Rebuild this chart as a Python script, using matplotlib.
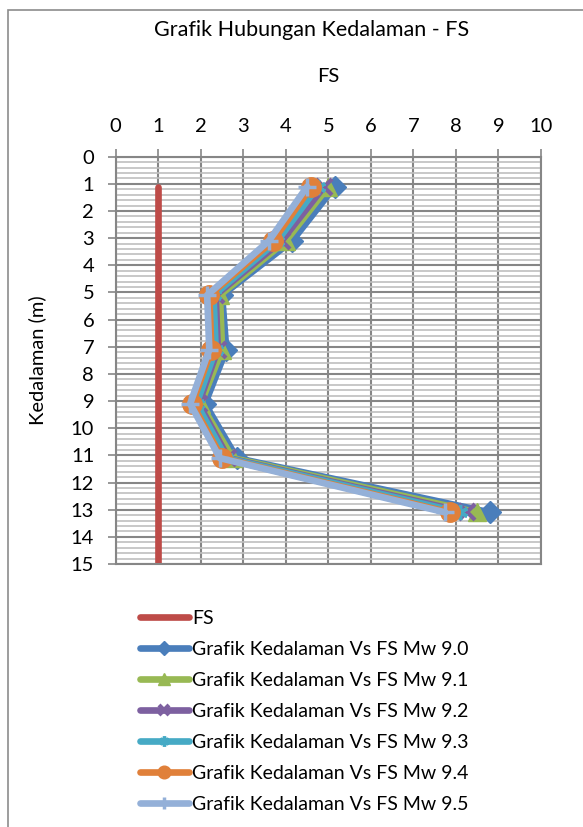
import numpy as np
import matplotlib.pyplot as plt
from matplotlib.patches import Rectangle
from matplotlib.ticker import MultipleLocator

plt.rcParams['font.family'] = ['Lato', 'DejaVu Sans']

# depth (m) of each point
depth = [1.1, 3.1, 5.1, 7.1, 9.1, 11.1, 13.1]
fs_line_x = [1, 1]
fs_line_depth = [1.1, 15]

fs_mw90 = [5.15, 4.15, 2.5, 2.6, 2.1, 2.85, 8.8]
fs_mw91 = [5.0, 4.0, 2.45, 2.5, 2.0, 2.75, 8.5]
fs_mw92 = [4.9, 3.9, 2.35, 2.4, 1.95, 2.65, 8.25]
fs_mw93 = [4.75, 3.8, 2.3, 2.35, 1.9, 2.6, 8.1]
fs_mw94 = [4.6, 3.7, 2.2, 2.25, 1.8, 2.5, 7.85]
fs_mw95 = [4.5, 3.6, 2.15, 2.2, 1.75, 2.45, 7.75]

labels = ['Grafik Kedalaman Vs FS Mw 9.0', 'Grafik Kedalaman Vs FS Mw 9.1',
          'Grafik Kedalaman Vs FS Mw 9.2', 'Grafik Kedalaman Vs FS Mw 9.3',
          'Grafik Kedalaman Vs FS Mw 9.4', 'Grafik Kedalaman Vs FS Mw 9.5']

fig = plt.figure(figsize=(5.83, 8.27), dpi=100)
fig.patch.set_facecolor('white')
fig.patches.append(Rectangle((8/583, -0.1), 1.2, 1 - 10/827 + 0.1, transform=fig.transFigure,
                             fill=False, edgecolor='#8c8c8c', linewidth=1.2))

ax = fig.add_axes([0.1985, 0.318, 0.7295, 0.4925])
ax.set_xlim(0, 10)
ax.set_ylim(15, 0)
ax.xaxis.tick_top()
ax.xaxis.set_label_position('top')
ax.xaxis.set_major_locator(MultipleLocator(1))
ax.yaxis.set_major_locator(MultipleLocator(1))
ax.yaxis.set_minor_locator(MultipleLocator(0.2))
ax.grid(which='major', color='#868686', linewidth=1.5)
ax.grid(which='minor', axis='y', color='#bfbfbf', linewidth=1.2)
ax.set_axisbelow(True)
ax.tick_params(which='major', direction='inout', length=11, width=1.2, color='#868686',
               labelsize=14.5, pad=10)
ax.tick_params(which='minor', length=0)
for s in ax.spines.values():
    s.set_color('#868686')
    s.set_linewidth(1.5)

ax.set_xlabel('FS', fontsize=14.5, labelpad=26)
ax.set_ylabel('Kedalaman (m)', fontsize=14.5, labelpad=18)
fig.text(0.534, 1 - 30/827, 'Grafik Hubungan Kedalaman - FS', ha='center', va='center', fontsize=15.5)

lw = 4.8
style = dict(linewidth=lw, solid_capstyle='round')
h0, = ax.plot(fs_line_x, fs_line_depth, color='#be4b48', label='FS', **style)
h1, = ax.plot(fs_mw90, depth, color='#4a7ebb', marker='D', markersize=11, label=labels[0], **style)
h2, = ax.plot(fs_mw91, depth, color='#98b954', marker='^', markersize=13, label=labels[1], **style)
h3, = ax.plot(fs_mw92, depth, color='#7d60a0', marker='x', markersize=11,
              markeredgewidth=3, label=labels[2], **style)
h4, = ax.plot(fs_mw93, depth, color='#46aac5', marker=(6, 2, 0), markersize=11,
              markeredgewidth=2.5, label=labels[3], **style)
h5, = ax.plot(fs_mw94, depth, color='#e0803a', marker='o', markersize=14, label=labels[4], **style)
h6, = ax.plot(fs_mw95, depth, color='#94b0d8', marker='+', markersize=13,
              markeredgewidth=2.5, label=labels[5], **style)

fig.legend(handles=[h0, h1, h2, h3, h4, h5, h6], loc='upper left',
           bbox_to_anchor=(140/583, 1 - 610/827), frameon=False, fontsize=14,
           handlelength=2.5, handletextpad=0.2, labelspacing=0.72, markerscale=0.65,
           borderaxespad=0, borderpad=0)

fig.savefig('out.png', dpi=100)
